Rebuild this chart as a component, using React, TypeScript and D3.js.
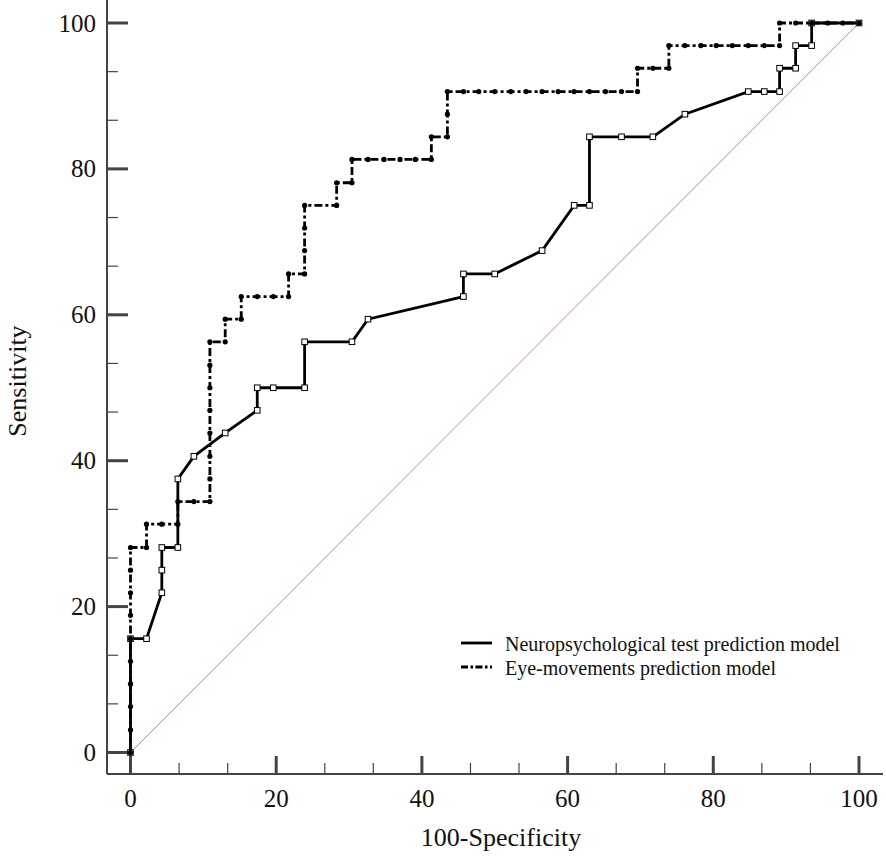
import * as d3 from "d3";
import { useEffect, useRef } from "react";

const W = 886;
const H = 857;

// Neuropsychological test prediction model: 100-specificity vs sensitivity
const neuroFpr = [0, 0, 2.2, 4.3, 4.3, 4.3, 6.5, 6.5, 8.7, 13.0, 17.4, 17.4, 19.6, 23.9, 23.9, 30.4, 32.6, 45.7, 45.7, 50.0, 56.5, 60.9, 63.0, 63.0, 67.4, 71.7, 76.1, 84.8, 87.0, 89.1, 89.1, 91.3, 91.3, 93.5, 93.5, 100];
const neuroTpr = [0, 15.6, 15.6, 21.9, 25.0, 28.1, 28.1, 37.5, 40.6, 43.8, 46.9, 50.0, 50.0, 50.0, 56.3, 56.3, 59.4, 62.5, 65.6, 65.6, 68.8, 75.0, 75.0, 84.4, 84.4, 84.4, 87.5, 90.6, 90.6, 90.6, 93.8, 93.8, 96.9, 96.9, 100, 100];

// Eye-movements prediction model
const eyeFpr = [
  0, 0, 0, 0, 0, 0, 0, 0, 0, 0,
  2.2, 2.2, 4.3, 6.5, 6.5, 8.7, 10.9,
  10.9, 10.9, 10.9, 10.9, 10.9, 10.9, 10.9,
  13.0, 13.0, 15.2, 15.2, 17.4, 19.6, 21.7, 21.7, 23.9,
  23.9, 23.9, 23.9, 28.3, 28.3, 30.4, 30.4,
  32.6, 34.8, 37.0, 39.1, 41.3, 41.3, 43.5, 43.5, 43.5,
  45.7, 47.8, 50.0, 52.2, 54.3, 56.5, 58.7, 60.9, 63.0, 65.2, 67.4, 69.6,
  69.6, 71.7, 73.9,
  73.9, 76.1, 78.3, 80.4, 82.6, 84.8, 87.0, 89.1,
  89.1, 91.3, 93.5, 95.7, 97.8, 100,
];
const eyeTpr = [
  0, 3.1, 6.3, 9.4, 12.5, 15.6, 18.8, 21.9, 25.0, 28.1,
  28.1, 31.3, 31.3, 31.3, 34.4, 34.4, 34.4,
  37.5, 40.6, 43.8, 46.9, 50.0, 53.1, 56.3,
  56.3, 59.4, 59.4, 62.5, 62.5, 62.5, 62.5, 65.6, 65.6,
  68.8, 71.9, 75.0, 75.0, 78.1, 78.1, 81.3,
  81.3, 81.3, 81.3, 81.3, 81.3, 84.4, 84.4, 87.5, 90.6,
  90.6, 90.6, 90.6, 90.6, 90.6, 90.6, 90.6, 90.6, 90.6, 90.6, 90.6, 90.6,
  93.8, 93.8, 93.8,
  96.9, 96.9, 96.9, 96.9, 96.9, 96.9, 96.9, 96.9,
  100, 100, 100, 100, 100, 100,
];

const majorTicks = [0, 20, 40, 60, 80, 100];
const legendLabels = ["Neuropsychological test prediction model", "Eye-movements prediction model"];

const font = "'Liberation Serif', 'Times New Roman', serif";
const axisColor = "#444";

function App() {
  const ref = useRef<SVGSVGElement>(null);

  useEffect(() => {
    const svg = d3.select(ref.current);
    svg.selectAll("*").remove();

    const x = d3.scaleLinear().domain([0, 100]).range([130.5, 859]);
    const y = d3.scaleLinear().domain([0, 100]).range([752.5, 23]);
    const axisX = 107;
    const axisY = 774;
    const minorTicks = d3.range(0, 100.01, 20 / 3).filter((v) => Math.abs(v / 20 - Math.round(v / 20)) > 0.01);

    // axis lines
    svg.append("line").attr("x1", axisX).attr("x2", axisX).attr("y1", 0).attr("y2", axisY)
      .attr("stroke", axisColor).attr("stroke-width", 2);
    svg.append("line").attr("x1", axisX).attr("x2", 883).attr("y1", axisY).attr("y2", axisY)
      .attr("stroke", axisColor).attr("stroke-width", 2);

    // x ticks
    svg.append("g").selectAll("line").data(majorTicks).enter().append("line")
      .attr("x1", (d) => x(d)).attr("x2", (d) => x(d)).attr("y1", axisY).attr("y2", axisY - 18)
      .attr("stroke", axisColor).attr("stroke-width", 3);
    svg.append("g").selectAll("line").data(minorTicks).enter().append("line")
      .attr("x1", (d) => x(d)).attr("x2", (d) => x(d)).attr("y1", axisY).attr("y2", axisY - 11)
      .attr("stroke", axisColor).attr("stroke-width", 1.2);
    svg.append("g").selectAll("text").data(majorTicks).enter().append("text")
      .attr("x", (d) => x(d)).attr("y", 807).attr("text-anchor", "middle")
      .style("font-family", font).style("font-size", "25px").attr("fill", "#111")
      .text((d) => d);

    // y ticks
    svg.append("g").selectAll("line").data(majorTicks).enter().append("line")
      .attr("y1", (d) => y(d)).attr("y2", (d) => y(d)).attr("x1", axisX).attr("x2", axisX + 21)
      .attr("stroke", axisColor).attr("stroke-width", 3);
    svg.append("g").selectAll("line").data(minorTicks).enter().append("line")
      .attr("y1", (d) => y(d)).attr("y2", (d) => y(d)).attr("x1", axisX).attr("x2", axisX + 11)
      .attr("stroke", axisColor).attr("stroke-width", 1.2);
    svg.append("g").selectAll("text").data(majorTicks).enter().append("text")
      .attr("x", 96).attr("y", (d) => y(d) + 8.5).attr("text-anchor", "end")
      .style("font-family", font).style("font-size", "25px").attr("fill", "#111")
      .text((d) => d);

    // axis titles
    svg.append("text").attr("x", 501).attr("y", 846).attr("text-anchor", "middle")
      .style("font-family", font).style("font-size", "26px").attr("fill", "#111")
      .text("100-Specificity");
    svg.append("text").attr("transform", "translate(26,381)rotate(-90)").attr("text-anchor", "middle")
      .style("font-family", font).style("font-size", "26px").attr("fill", "#111")
      .text("Sensitivity");

    // diagonal reference
    svg.append("line").attr("x1", x(0)).attr("y1", y(0)).attr("x2", x(100)).attr("y2", y(100))
      .attr("stroke", "#c48a8a").attr("stroke-width", 1);

    const line = d3.line<number>().x((d, i) => x(neuroFpr[i])).y((d) => y(d));
    svg.append("path").datum(neuroTpr).attr("d", line).attr("fill", "none")
      .attr("stroke", "#000").attr("stroke-width", 2.8).attr("stroke-linejoin", "miter");
    svg.append("g").selectAll("rect").data(neuroTpr).enter().append("rect")
      .attr("x", (d, i) => x(neuroFpr[i]) - 2.8).attr("y", (d) => y(d) - 2.8)
      .attr("width", 5.6).attr("height", 5.6)
      .attr("fill", "#fff").attr("stroke", "#000").attr("stroke-width", 1);

    const eyeLine = d3.line<number>().x((d, i) => x(eyeFpr[i])).y((d) => y(d));
    svg.append("path").datum(eyeTpr).attr("d", eyeLine).attr("fill", "none")
      .attr("stroke", "#000").attr("stroke-width", 2.8).attr("stroke-dasharray", "8,3,3,3");
    svg.append("g").selectAll("circle").data(eyeTpr).enter().append("circle")
      .attr("cx", (d, i) => x(eyeFpr[i])).attr("cy", (d) => y(d)).attr("r", 2.6).attr("fill", "#000");

    // legend
    const legend = svg.append("g");
    legendLabels.forEach((label, i) => {
      const ly = 643 + i * 24;
      legend.append("line").attr("x1", 461).attr("x2", 492).attr("y1", ly).attr("y2", ly)
        .attr("stroke", "#000").attr("stroke-width", 2.8)
        .attr("stroke-dasharray", i === 1 ? "7,2.5,2.5,2.5" : null);
      legend.append("text").attr("x", 505).attr("y", ly + 7.5)
        .style("font-family", font).style("font-size", "20px").attr("fill", "#111")
        .text(label);
    });
  }, []);

  return (
    <svg
      ref={ref}
      width={W}
      height={H}
      style={{ position: "absolute", left: 0, top: 0, background: "#fff" }}
    />
  );
}

export default App;
